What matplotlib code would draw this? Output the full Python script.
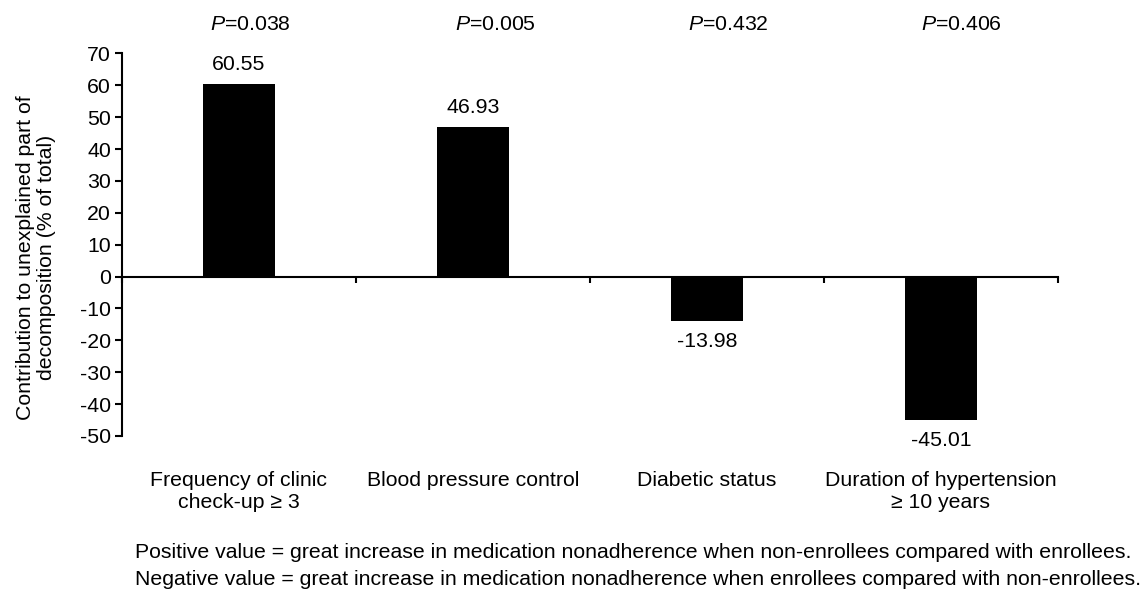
import matplotlib
matplotlib.use("Agg")
import matplotlib.pyplot as plt
import matplotlib.transforms as mtransforms

plt.rcParams['font.family'] = ['Liberation Sans', 'DejaVu Sans']
plt.rcParams['mathtext.fontset'] = 'custom'
plt.rcParams['mathtext.rm'] = 'Liberation Sans'
plt.rcParams['mathtext.it'] = 'Liberation Sans:italic'
plt.rcParams['axes.unicode_minus'] = False

# 数据
categories = ['Frequency of clinic\ncheck-up ≥ 3', 'Blood pressure control',
              'Diabetic status', 'Duration of hypertension\n≥ 10 years']
values = [60.55, 46.93, -13.98, -45.01]
value_labels = ['60.55', '46.93', '-13.98', '-45.01']
p_values = ['0.038', '0.005', '0.432', '0.406']
yticks = list(range(-50, 71, 10))
notes = ['Positive value = great increase in medication nonadherence when non-enrollees compared with enrollees.',
         'Negative value = great increase in medication nonadherence when enrollees compared with non-enrollees.']

fs = 15.3

fig = plt.figure(figsize=(11.44, 5.93), dpi=100)
ax = fig.add_axes([0.1066, 0.2648, 0.818, 0.645])

x = list(range(len(categories)))
ax.bar(x, values, width=0.31, color='black')

ax.set_xlim(-0.5, len(categories) - 0.5)
ax.set_ylim(-50, 70)
ax.set_yticks(yticks)
ax.tick_params(axis='y', labelsize=fs, length=5, width=1.5, direction='out', pad=3)

# x轴放在0处, 刻度在类别边界
ax.spines['bottom'].set_position(('data', 0))
ax.spines['top'].set_visible(False)
ax.spines['right'].set_visible(False)
ax.spines['left'].set_linewidth(1.5)
ax.spines['bottom'].set_linewidth(1.5)
ax.set_xticks([i + 0.5 for i in range(-1, len(categories))])
ax.set_xticklabels([])
ax.tick_params(axis='x', length=4, width=1.5, direction='out')

# 数值标签
for i, v in enumerate(values):
    if v >= 0:
        ax.text(i, v + 3, value_labels[i], ha='center', va='bottom', fontsize=fs)
    else:
        ax.text(i, v - 3.5, value_labels[i], ha='center', va='top', fontsize=fs)

# P值 (原图中略向右偏)
p_shift = [0.05, 0.095, 0.09, 0.09]
trans = mtransforms.blended_transform_factory(ax.transData, fig.transFigure)
for i, p in enumerate(p_values):
    ax.text(i + p_shift[i], 0.9494, '$P$=' + p, transform=trans, ha='center',
            va='baseline', fontsize=fs)

# 类别标签
for i, c in enumerate(categories):
    ax.text(i, 0.2057, c, transform=trans, ha='center', va='top', fontsize=fs,
            linespacing=1.2)

ax.set_ylabel('Contribution to unexplained part of\ndecomposition (% of total)',
              fontsize=fs, linespacing=1.1)
ax.yaxis.set_label_coords(-0.0705, 0.467)

# 脚注
fig.text(0.118, 0.059, notes[0], ha='left', va='baseline', fontsize=fs)
fig.text(0.118, 0.0135, notes[1], ha='left', va='baseline', fontsize=fs)

fig.savefig('out.png', dpi=100)
